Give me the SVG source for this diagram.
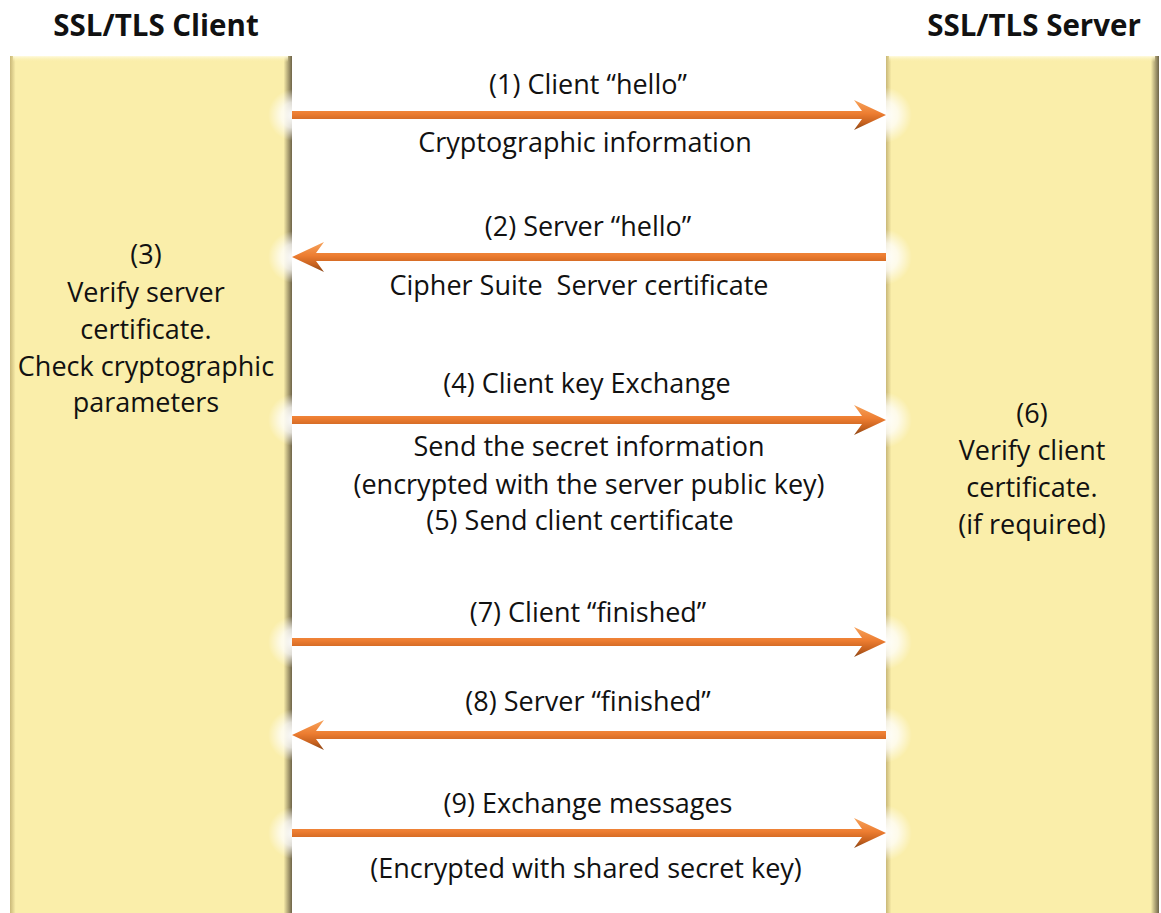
<svg xmlns="http://www.w3.org/2000/svg" width="1161" height="913" viewBox="0 0 1161 913">
<style>
.t{font-family:"Open Sans","Liberation Sans",sans-serif;font-size:27px;fill:#111;text-anchor:middle;white-space:pre}
.h{font-family:"Open Sans","Liberation Sans",sans-serif;font-size:29.5px;font-weight:bold;fill:#111;text-anchor:middle}
.box{fill:url(#boxg)}
.gl{fill:url(#glow)}
</style>
<defs>
<linearGradient id="boxg" x1="0" y1="0" x2="1" y2="0">
<stop offset="0" stop-color="#c9b878"/>
<stop offset="0.02" stop-color="#faeeaa"/>
<stop offset="0.97" stop-color="#faeeaa"/>
<stop offset="1" stop-color="#6e6448"/>
</linearGradient>
<linearGradient id="topg" x1="0" y1="0" x2="0" y2="1">
<stop offset="0" stop-color="#fffbe0"/>
<stop offset="1" stop-color="#faeeaa" stop-opacity="0"/>
</linearGradient>
<linearGradient id="arr" x1="0" y1="0" x2="0" y2="1">
<stop offset="0" stop-color="#f6a35c"/>
<stop offset="0.45" stop-color="#ed7d31"/>
<stop offset="0.75" stop-color="#c8621f"/>
<stop offset="1" stop-color="#8a4515"/>
</linearGradient>
<radialGradient id="glow">
<stop offset="0" stop-color="#fff" stop-opacity="1"/>
<stop offset="0.5" stop-color="#fff" stop-opacity="0.75"/>
<stop offset="1" stop-color="#fff" stop-opacity="0"/>
</radialGradient>
<clipPath id="cl"><rect x="10" y="56" width="282" height="857"/></clipPath>
<clipPath id="cs"><rect x="886" y="56" width="273" height="857"/></clipPath>
</defs>

<g id="client">
<rect class="box" x="10" y="56" width="282" height="857"/>
<rect x="13" y="56" width="275" height="6" fill="url(#topg)"/>
<g clip-path="url(#cl)">
<circle class="gl" cx="294" cy="115" r="26"/>
<circle class="gl" cx="294" cy="257" r="26"/>
<circle class="gl" cx="294" cy="420" r="26"/>
<circle class="gl" cx="294" cy="642" r="26"/>
<circle class="gl" cx="294" cy="735" r="26"/>
<circle class="gl" cx="294" cy="833" r="26"/>
</g>
<text class="h" x="156" y="36">SSL/TLS Client</text>
<text class="t" x="146" y="264">(3)</text>
<text class="t" x="146" y="302">Verify server</text>
<text class="t" x="146" y="339">certificate.</text>
<text class="t" x="146" y="376">Check cryptographic</text>
<text class="t" x="146" y="412">parameters</text>
</g>

<g id="server">
<rect class="box" x="886" y="56" width="273" height="857"/>
<rect x="889" y="56" width="266" height="6" fill="url(#topg)"/>
<g clip-path="url(#cs)">
<circle class="gl" cx="884" cy="115" r="28"/>
<circle class="gl" cx="884" cy="257" r="28"/>
<circle class="gl" cx="884" cy="420" r="28"/>
<circle class="gl" cx="884" cy="642" r="28"/>
<circle class="gl" cx="884" cy="735" r="28"/>
<circle class="gl" cx="884" cy="833" r="28"/>
</g>
<text class="h" x="1034" y="36">SSL/TLS Server</text>
<text class="t" x="1032" y="423">(6)</text>
<text class="t" x="1032" y="460">Verify client</text>
<text class="t" x="1032" y="497">certificate.</text>
<text class="t" x="1032" y="534">(if required)</text>
</g>

<g id="connectors">
<path fill="url(#arr)" d="M292,111 L862,111 L854,100 L886,115 L854,130 L862,119 L292,119 Z"/>
<path fill="url(#arr)" d="M886,253 L316,253 L324,242 L292,257 L324,272 L316,261 L886,261 Z"/>
<path fill="url(#arr)" d="M292,416 L862,416 L854,405 L886,420 L854,435 L862,424 L292,424 Z"/>
<path fill="url(#arr)" d="M292,638 L862,638 L854,627 L886,642 L854,657 L862,646 L292,646 Z"/>
<path fill="url(#arr)" d="M886,731 L316,731 L324,720 L292,735 L324,750 L316,739 L886,739 Z"/>
<path fill="url(#arr)" d="M292,829 L862,829 L854,818 L886,833 L854,848 L862,837 L292,837 Z"/>
</g>

<g id="labels">
<text class="t" x="588" y="94">(1) Client “hello”</text>
<text class="t" x="585" y="152">Cryptographic information</text>
<text class="t" x="588" y="236">(2) Server “hello”</text>
<text class="t" x="579" y="295">Cipher Suite  Server certificate</text>
<text class="t" x="587" y="393">(4) Client key Exchange</text>
<text class="t" x="589" y="456">Send the secret information</text>
<text class="t" x="589" y="494">(encrypted with the server public key)</text>
<text class="t" x="580" y="530">(5) Send client certificate</text>
<text class="t" x="588" y="622">(7) Client “finished”</text>
<text class="t" x="588" y="711">(8) Server “finished”</text>
<text class="t" x="588" y="813">(9) Exchange messages</text>
<text class="t" x="586" y="878">(Encrypted with shared secret key)</text>
</g>
</svg>
